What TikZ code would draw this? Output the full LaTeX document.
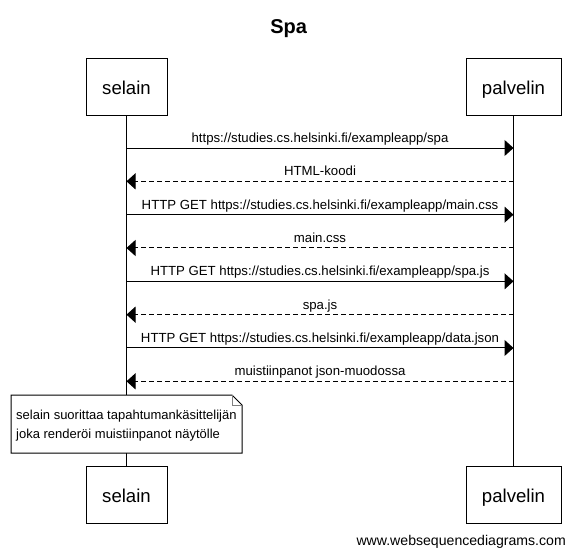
\documentclass[tikz,border=0pt]{standalone}
\usepackage{fontspec}
\setmainfont{Liberation Sans}[Ligatures=NoCommon]
\usetikzlibrary{positioning,arrows.meta}

\tikzset{
  actor/.style={draw, line width=1pt, outer sep=0pt, minimum height=57pt, inner xsep=0pt,
    text height=18pt, text depth=3pt, font=\fontsize{18.6}{20}\selectfont},
  call/.style={line width=1pt, -{Triangle[length=9pt,width=16pt]}},
  reply/.style={call, dash pattern=on 5pt off 3pt},
  lbl/.style={above, inner xsep=0pt, inner ysep=2pt, text depth=3pt, font=\fontsize{13.2}{15}\selectfont},
  notetext/.style={anchor=base west, inner sep=0pt, font=\fontsize{13}{15}\selectfont},
}

\begin{document}
\begin{tikzpicture}[x=1pt, y=-1pt]
    \useasboundingbox (0,0) rectangle (575,557);
    \node [font=\bfseries\fontsize{20}{24}\selectfont, anchor=base] (title) at (288.7,33.3) {Spa};

    \node [actor, minimum width=81pt] (selain) at (126.5,86.5) {selain};
    \node [actor, minimum width=95pt] (palvelin) at (513.5,86.5) {palvelin};
    \node [actor, minimum width=81pt, below=351pt of selain] (selain2) {selain};
    \node [actor, minimum width=95pt, below=351pt of palvelin] (palvelin2) {palvelin};

    \draw [line width=1pt] (selain) -- (selain2);
    \draw [line width=1pt] (palvelin) -- (palvelin2);

    \foreach \i in {1,...,8} {
        \coordinate (s\i) at (126.5,{114.67+33.33*\i});
        \coordinate (p\i) at (513.5,{114.67+33.33*\i});
    }

    \draw [call] (s1) -- node [lbl] {https://studies.cs.helsinki.fi/exampleapp/spa} (p1);
    \draw [reply] (p2) -- node [lbl] {HTML-koodi} (s2);
    \draw [call] (s3) -- node [lbl] {HTTP GET https://studies.cs.helsinki.fi/exampleapp/main.css} (p3);
    \draw [reply] (p4) -- node [lbl] {main.css} (s4);
    \draw [call] (s5) -- node [lbl] {HTTP GET https://studies.cs.helsinki.fi/exampleapp/spa.js} (p5);
    \draw [reply] (p6) -- node [lbl] {spa.js} (s6);
    \draw [call] (s7) -- node [lbl] {HTTP GET https://studies.cs.helsinki.fi/exampleapp/data.json} (p7);
    \draw [reply] (p8) -- node [lbl] {muistiinpanot json-muodossa} (s8);

    % note over selain
    \node [minimum width=231pt, minimum height=58pt, inner sep=0pt, outer sep=0pt] (note) at (126.5,424) {};
    \filldraw [fill=white, line width=1pt] (note.north west) -- ([xshift=-10pt]note.north east)
        -- ([yshift=-10pt]note.north east) -- (note.south east) -- (note.south west) -- cycle;
    \draw [gray, line width=0.6pt] ([xshift=-10pt]note.north east) |- ([yshift=-10pt]note.north east);
    \node [notetext] (note1) at (16,419.5) {selain suorittaa tapahtumankäsittelijän};
    \node [notetext] (note2) at (16,438.5) {joka renderöi muistiinpanot näytölle};

    \node [anchor=base east, inner sep=0pt, font=\fontsize{14.1}{16}\selectfont] (wsd) at (566,545) {www.websequencediagrams.com};
\end{tikzpicture}
\end{document}
